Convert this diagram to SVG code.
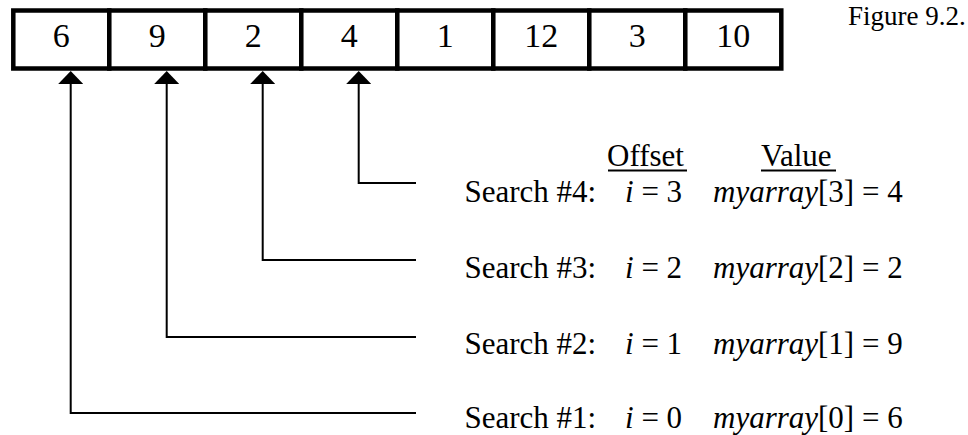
<svg xmlns="http://www.w3.org/2000/svg" width="968" height="435" viewBox="0 0 968 435">
<style>
.cell{fill:#fff;stroke:#000;stroke-width:4.5}
.num{font-family:"Liberation Serif","Times New Roman",serif;font-size:34px;text-anchor:middle;fill:#000}
.t{font-family:"Liberation Serif","Times New Roman",serif;font-size:31px;fill:#000}
.it{font-style:italic}
.conn{fill:none;stroke:#000;stroke-width:2}
.ul{stroke:#000;stroke-width:2}
</style>
<defs>
<marker id="ah" viewBox="0 0 13 25" refX="4" refY="12.5" markerWidth="13" markerHeight="25" markerUnits="userSpaceOnUse" orient="auto">
<path d="M0,0 L13,12.5 L0,25 Z" fill="#000"/>
</marker>
</defs>
<rect width="968" height="435" fill="#fff"/>
<g id="cell-0"><rect class="cell" x="13.3" y="10.5" width="96" height="58"/><text class="num" x="61.3" y="47">6</text></g>
<g id="cell-1"><rect class="cell" x="109.3" y="10.5" width="96" height="58"/><text class="num" x="157.3" y="47">9</text></g>
<g id="cell-2"><rect class="cell" x="205.3" y="10.5" width="96" height="58"/><text class="num" x="253.3" y="47">2</text></g>
<g id="cell-3"><rect class="cell" x="301.3" y="10.5" width="96" height="58"/><text class="num" x="349.3" y="47">4</text></g>
<g id="cell-4"><rect class="cell" x="397.3" y="10.5" width="96" height="58"/><text class="num" x="445.3" y="47">1</text></g>
<g id="cell-5"><rect class="cell" x="493.3" y="10.5" width="96" height="58"/><text class="num" x="541.3" y="47">12</text></g>
<g id="cell-6"><rect class="cell" x="589.3" y="10.5" width="96" height="58"/><text class="num" x="637.3" y="47">3</text></g>
<g id="cell-7"><rect class="cell" x="685.3" y="10.5" width="96" height="58"/><text class="num" x="733.3" y="47">10</text></g>
<g id="caption"><text class="t" x="848" y="25" style="font-size:27px">Figure 9.2.</text></g>
<g id="header">
<text class="t" x="607" y="166">Offset</text>
<line class="ul" x1="608" y1="170.5" x2="687" y2="170.5"/>
<text class="t" x="761" y="166">Value</text>
<line class="ul" x1="761" y1="170.5" x2="836" y2="170.5"/>
</g>
<g id="search-4">
<text class="t" x="464.5" y="202">Search #4:</text>
<text class="t" x="625" y="202"><tspan class="it">i</tspan> = 3</text>
<text class="t" x="713" y="202"><tspan class="it">myarray</tspan>[3] = 4</text>
</g>
<g id="search-3">
<text class="t" x="464.5" y="278">Search #3:</text>
<text class="t" x="625" y="278"><tspan class="it">i</tspan> = 2</text>
<text class="t" x="713" y="278"><tspan class="it">myarray</tspan>[2] = 2</text>
</g>
<g id="search-2">
<text class="t" x="464.5" y="354">Search #2:</text>
<text class="t" x="625" y="354"><tspan class="it">i</tspan> = 1</text>
<text class="t" x="713" y="354"><tspan class="it">myarray</tspan>[1] = 9</text>
</g>
<g id="search-1">
<text class="t" x="464.5" y="428">Search #1:</text>
<text class="t" x="625" y="428"><tspan class="it">i</tspan> = 0</text>
<text class="t" x="713" y="428"><tspan class="it">myarray</tspan>[0] = 6</text>
</g>
<g id="connectors">
<path class="conn" d="M416,183 H358.7 V80" marker-end="url(#ah)"/>
<path class="conn" d="M416,260 H262.7 V80" marker-end="url(#ah)"/>
<path class="conn" d="M416,337 H166.7 V80" marker-end="url(#ah)"/>
<path class="conn" d="M416,413 H70.7 V80" marker-end="url(#ah)"/>
</g>
</svg>
